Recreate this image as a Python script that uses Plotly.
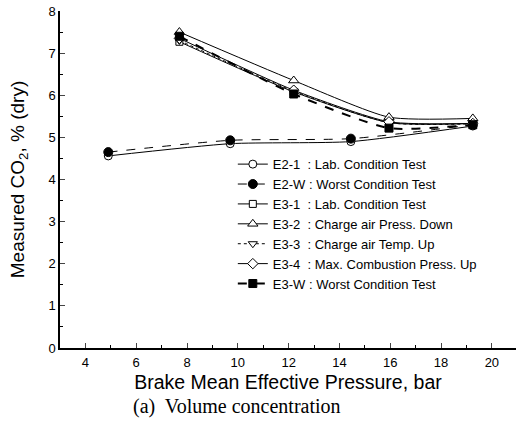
import plotly.graph_objects as go

# ---- data ----
x_e2 = [4.9, 9.7, 14.45, 19.25]
e2_1 = [4.56, 4.85, 4.90, 5.27]
e2_w = [4.65, 4.93, 4.97, 5.30]

x_e3 = [7.7, 12.2, 15.95, 19.25]
e3_1 = [7.27, 6.08, 5.35, 5.33]
e3_2 = [7.50, 6.35, 5.48, 5.45]
e3_3 = [7.30, 6.10, 5.35, 5.32]
e3_4 = [7.35, 6.12, 5.37, 5.33]
e3_w = [7.40, 6.03, 5.22, 5.30]

names = [
    "E2-1  : Lab. Condition Test",
    "E2-W : Worst Condition Test",
    "E3-1  : Lab. Condition Test",
    "E3-2  : Charge air Press. Down",
    "E3-3  : Charge air Temp. Up",
    "E3-4  : Max. Combustion Press. Up",
    "E3-W : Worst Condition Test",
]

x_ticks = [4, 6, 8, 10, 12, 14, 16, 18, 20]
y_ticks = [0, 1, 2, 3, 4, 5, 6, 7, 8]

# (x, y, name, symbol, fill, dash, line width, marker size)
series = [
    (x_e2, e2_1, names[0], "circle", "white", "solid", 1.0, 8),
    (x_e2, e2_w, names[1], "circle", "black", "dash", 1.0, 9),
    (x_e3, e3_1, names[2], "square", "white", "solid", 1.0, 7),
    (x_e3, e3_2, names[3], "triangle-up", "white", "solid", 1.0, 9),
    (x_e3, e3_3, names[4], "triangle-down", "white", "dot", 1.0, 8),
    (x_e3, e3_4, names[5], "diamond", "white", "solid", 1.0, 8),
    (x_e3, e3_w, names[6], "square", "black", "dash", 2.0, 8),
]

fig = go.Figure()
for xs, ys, nm, sym, fill, dash, lw, ms in series:
    fig.add_trace(go.Scatter(
        x=xs, y=ys, name=nm, mode="lines+markers",
        line=dict(color="black", width=lw, dash=dash, shape="spline", smoothing=0.6),
        marker=dict(symbol=sym, size=ms, color=fill,
                    line=dict(color="black", width=1)),
    ))

fig.update_layout(
    width=516, height=426,
    margin=dict(l=60, r=0, t=11, b=78),
    paper_bgcolor="white", plot_bgcolor="white",
    font=dict(family="Liberation Sans, Arial", color="black", size=13),
    showlegend=True,
    legend=dict(
        x=0.379, y=0.59, xanchor="left", yanchor="top",
        bgcolor="rgba(0,0,0,0)", font=dict(size=13, family="Liberation Sans, Arial"),
        tracegroupgap=0, itemwidth=30,
    ),
    xaxis=dict(
        range=[3, 20.95], tickvals=x_ticks, ticks="inside", ticklen=5, tickwidth=1,
        showline=True, linecolor="black", linewidth=1.5, showgrid=False, zeroline=False,
        minor=dict(dtick=1, ticks="inside", ticklen=3, tickcolor="black"),
        title=dict(text="Brake Mean Effective Pressure, bar", font=dict(size=19.5), standoff=6),
        tickfont=dict(size=13), ticklabelstandoff=2,
    ),
    yaxis=dict(
        range=[0, 8], tickvals=y_ticks, ticks="inside", ticklen=5, tickwidth=1,
        showline=True, linecolor="black", linewidth=1.5, showgrid=False, zeroline=False,
        minor=dict(dtick=0.5, ticks="inside", ticklen=3, tickcolor="black"),
        title=dict(text="Measured CO<sub>2</sub>, % (dry)", font=dict(size=19), standoff=19),
        tickfont=dict(size=13),
    ),
    annotations=[dict(
        text="(a)  Volume concentration", xref="paper", yref="paper",
        x=0.388, y=-0.175, xanchor="center", yanchor="middle", showarrow=False,
        font=dict(family="Liberation Serif, Times New Roman", size=20, color="black"),
    )],
)

fig.write_html("out.html")
